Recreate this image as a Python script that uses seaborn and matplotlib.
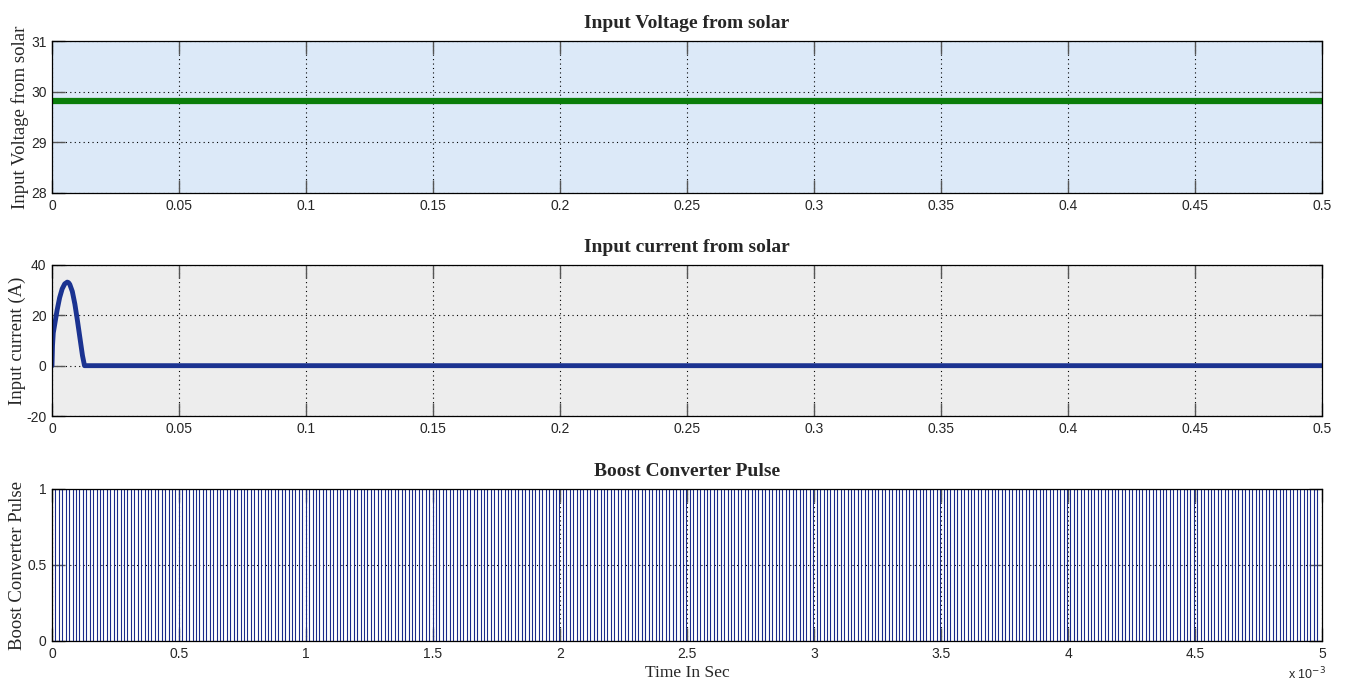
import numpy as np
import pandas as pd
import matplotlib
matplotlib.use('Agg')
import matplotlib.pyplot as plt
import seaborn as sns
from matplotlib.ticker import FuncFormatter

# Datos
t_volt = [0.0, 0.5]
v_solar = [29.82, 29.82]

t_curr = [0.0, 0.0002, 0.0005, 0.001, 0.002, 0.003, 0.004, 0.005, 0.006, 0.0065,
          0.007, 0.008, 0.009, 0.010, 0.011, 0.012, 0.0128, 0.5]
i_solar = [0.0, 8.0, 13.0, 16.0, 22.0, 27.0, 30.5, 32.5, 33.2, 33.0,
           32.3, 29.5, 24.5, 18.0, 11.0, 4.0, 0.0, 0.0]

# Pulso del convertidor: periodo y ciclo de trabajo
pulse_period = 27e-6
pulse_duty = 0.5
t_end = 5e-3

n = int(round(t_end / pulse_period))
edges = []
levels = []
for k in range(n):
    edges += [k * pulse_period, k * pulse_period + pulse_duty * pulse_period]
    levels += [1, 0]
edges.append(t_end)
levels.append(levels[-1])
df_pulse = pd.DataFrame({'t': edges, 'p': levels})

sns.set_style('ticks')
plt.rcParams['font.family'] = ['Liberation Sans', 'DejaVu Sans']
plt.rcParams['axes.unicode_minus'] = False

fig = plt.figure(figsize=(13.45, 6.83), dpi=100)
W, H = 1345, 683
def add_ax(top, bottom):
    return fig.add_axes([52 / W, 1 - bottom / H, (1322 - 52) / W, (bottom - top) / H])

ax1 = add_ax(41, 193)
ax2 = add_ax(265, 416)
ax3 = add_ax(489, 641)

serif = ['Liberation Serif', 'DejaVu Serif']

def style(ax, face):
    ax.set_facecolor(face)
    ax.grid(True, color='black', linestyle=(0, (1, 3)), linewidth=0.8)
    ax.tick_params(direction='in', length=9.5, width=1, color='#555555',
                   top=True, right=True, labelsize=10, pad=4)
    for s in ax.spines.values():
        s.set_color('black')
        s.set_linewidth(0.9)
        s.set_zorder(5)

xt_labels = ['0', '0.05', '0.1', '0.15', '0.2', '0.25', '0.3', '0.35', '0.4', '0.45', '0.5']

# Voltaje
sns.lineplot(x=t_volt, y=v_solar, ax=ax1, color='#0a7d0a', linewidth=4.5, estimator=None)
ax1.set_xlim(0, 0.5)
ax1.set_ylim(28, 31)
ax1.set_xticks(np.arange(0, 0.51, 0.05))
ax1.set_xticklabels(xt_labels)
ax1.set_yticks([28, 29, 30, 31])
ax1.set_title('Input Voltage from solar', family=serif, fontweight='bold', fontsize=14, pad=9)
ax1.set_ylabel('Input Voltage from solar', family=serif, fontsize=13.5, labelpad=1)
style(ax1, '#dce9f8')

# Corriente
sns.lineplot(x=t_curr, y=i_solar, ax=ax2, color='#1b3391', linewidth=3.5, estimator=None)
ax2.set_xlim(0, 0.5)
ax2.set_ylim(-20, 40)
ax2.set_xticks(np.arange(0, 0.51, 0.05))
ax2.set_xticklabels(xt_labels)
ax2.set_yticks([-20, 0, 20, 40])
ax2.set_title('Input current from solar', family=serif, fontweight='bold', fontsize=14, pad=9)
ax2.set_ylabel('Input current (A)', family=serif, fontsize=13.5, labelpad=0)
style(ax2, '#ededed')

# Pulso
sns.lineplot(data=df_pulse, x='t', y='p', ax=ax3, color='#1a2a8a', linewidth=0.8,
             drawstyle='steps-post', estimator=None, sort=False)
ax3.set_xlim(0, t_end)
ax3.set_ylim(0, 1)
ax3.set_xticks(np.arange(0, 5.01e-3, 0.5e-3))
ax3.xaxis.set_major_formatter(FuncFormatter(lambda v, p: f'{v * 1e3:g}'))
ax3.set_yticks([0, 0.5, 1])
ax3.set_yticklabels(['0', '0.5', '1'])
ax3.set_title('Boost Converter Pulse', family=serif, fontweight='bold', fontsize=14, pad=9)
ax3.set_ylabel('Boost Converter Pulse', family=serif, fontsize=13.5, labelpad=1)
ax3.set_xlabel('Time In Sec', family=serif, fontsize=12.5, labelpad=3)
style(ax3, 'white')
fig.text(1288 / W, 1 - 682 / H, 'x 10$^{-3}$', fontsize=9, ha='left', va='bottom')

fig.savefig('out.png', dpi=100)
